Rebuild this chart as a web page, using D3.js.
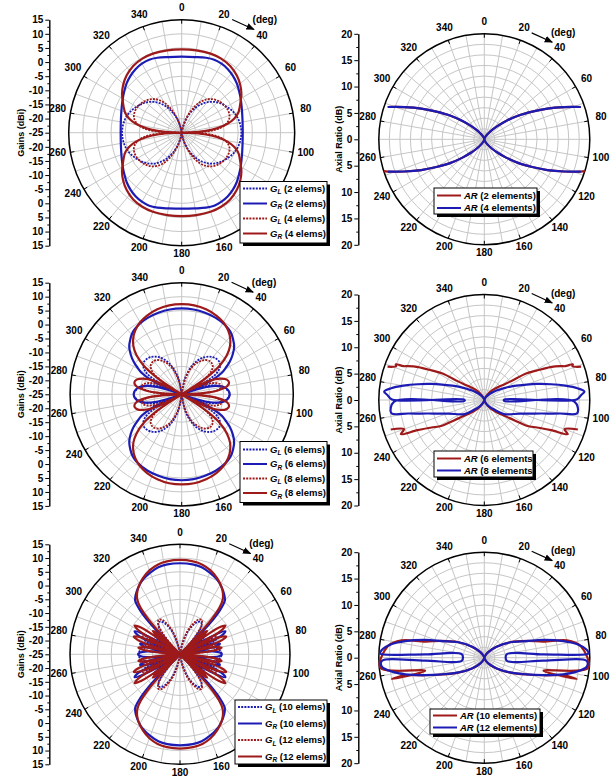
<!DOCTYPE html>
<html>
<head>
<meta charset="utf-8">
<script src="https://cdn.jsdelivr.net/npm/d3@7"></script>
<style>
  body { margin: 0; background: #fff; }
  text { font-family: "Liberation Sans", Arial, sans-serif; font-weight: bold; }
</style>
</head>
<body>
<svg id="chart" width="615" height="777"></svg>
<script>
// ---- data ----
const angleTicks = [0, 20, 40, 60, 80, 100, 120, 140, 160, 180, 200, 220, 240, 260, 280, 300, 320, 340];
const gainTicks = [-25, -20, -15, -10, -5, 0, 5, 10, 15];
const gainMinor = [-22.5, -17.5, -12.5, -7.5, -2.5, 2.5, 7.5, 12.5];
const arTicks = [0, 5, 10, 15, 20];
const arMinor = [2.5, 7.5, 12.5, 17.5];

// gains, [angle (deg), dBi] for 0..90 deg; patterns are symmetric in both axes
const gL2 = [[0,-40],[6,-27],[12,-23],[18,-20],[24,-17.2],[30,-14.5],[36,-12.2],[42,-10.3],[48,-8.8],[54,-7.6],[60,-6.6],[66,-5.6],[72,-4.8],[78,-4.3],[84,-4.0],[90,-3.9]];
const gR2 = [[0,1.9],[10,2.2],[18,2.9],[24,3.3],[30,3.2],[36,2.8],[42,2.1],[48,1.2],[54,0.1],[60,-0.9],[66,-1.8],[72,-2.5],[78,-3.0],[84,-3.3],[90,-3.4]];
const gL4 = [[0,-40],[6,-28],[12,-23],[18,-19.5],[24,-16],[30,-12.8],[36,-10.5],[42,-9],[48,-8],[54,-7.3],[60,-6.9],[66,-6.8],[72,-7.2],[77,-8.3],[81,-10],[85,-13],[88,-18],[90,-40]];
const gR4 = [[0,4.5],[10,4.6],[20,4.8],[28,4.7],[36,4.2],[44,3.1],[51,1.7],[57,0.2],[61,-1.1],[66,-2.5],[71,-3.9],[75,-5.8],[79,-8.5],[83,-12.5],[86,-17],[88,-22],[90,-40]];

const gL6 = [[0,-40],[5,-26],[12,-19],[20,-14],[28,-10.5],[36,-8.3],[43,-7.3],[50,-7.2],[55,-8.3],[59,-10.5],[62,-14],[64,-20],[66,-40],[68,-22],[71,-16],[75,-12.5],[80,-10],[85,-8.5],[90,-7.8]];
const gR6 = [[0,5.8],[8,5.7],[16,5.4],[24,5.0],[32,4.3],[38,3.4],[43,2.0],[48,0.3],[52,-1.8],[56,-4.3],[59,-6.6],[62,-8.8],[65,-13],[67,-19],[69,-40],[71,-22],[74,-15],[78,-11],[82,-9],[86,-8.1],[90,-7.8]];
const gL8 = [[0,-40],[5,-27],[12,-20],[20,-15],[28,-11.8],[35,-10],[41,-9.4],[47,-9.8],[52,-11.5],[56,-15],[59,-21],[61,-40],[64,-22],[68,-15],[72,-12],[76,-10.6],[80,-10.5],[84,-12.5],[87,-17],[89,-24],[90,-40]];
const gR8 = [[0,7.3],[8,7.2],[16,6.7],[24,5.8],[30,4.8],[36,3.3],[41,1.5],[45,-0.5],[49,-3.5],[53,-8],[56,-14],[58,-22],[59,-40],[61,-22],[64,-14],[68,-10],[72,-8],[76,-7.5],[80,-8.5],[84,-12],[87,-18],[89,-26],[90,-40]];

const gL10 = [[0,-40],[6,-28],[12,-22],[18,-17],[24,-13.5],[29,-11.5],[33,-11],[37,-12],[40,-14.5],[43,-19],[45,-40],[47,-22],[50,-15],[53,-13],[56,-15],[58,-22],[59,-40],[61,-20],[64,-12],[67,-10.5],[70,-12.5],[72.5,-20],[73.5,-40],[75,-20],[78,-13],[82,-11],[86,-10.2],[90,-9.8]];
const gR10 = [[0,8.1],[8,8.0],[14,7.6],[20,6.6],[26,5.4],[31,4.0],[35,2.6],[38,1.4],[40,0.3],[42,-3],[44,-9],[45.5,-18],[46.5,-40],[48,-22],[50,-15],[52,-13.5],[54,-15],[56,-22],[57,-40],[58.5,-22],[60.5,-12],[63,-6.5],[65.5,-8],[67.5,-14],[68.5,-22],[69.5,-40],[71,-20],[73,-12],[75,-10],[77,-11],[79.5,-17],[81,-40],[83,-20],[85,-13],[87.5,-10.5],[90,-9.8]];
const gL12 = [[0,-40],[6,-27],[12,-21],[18,-16],[24,-12.5],[28,-10.7],[32,-10.2],[36,-11.5],[39,-14.5],[42,-20],[43.5,-40],[45.5,-22],[48,-15.5],[50.5,-14],[53,-16.5],[55,-24],[56,-40],[58,-20],[61,-12],[64,-10],[67,-11.5],[69.5,-17],[71,-40],[73,-20],[76,-12],[79,-10.5],[82,-11.5],[84.5,-16],[86,-24],[87,-40],[88.5,-28],[90,-25]];
const gR12 = [[0,9.3],[8,9.1],[14,8.6],[20,7.5],[26,5.8],[31,4.0],[35,2.2],[38,0.2],[40,-2.5],[42,-8],[43.5,-18],[44.5,-40],[46,-20],[48,-13],[49.5,-12],[51,-15],[52,-40],[53.5,-18],[55.5,-8],[57.5,-5.5],[59.5,-7],[61.5,-13],[62.5,-22],[63,-40],[64.5,-20],[66.5,-10],[69,-7],[71.5,-9],[73.5,-15],[74.5,-25],[75,-40],[76.5,-20],[78.5,-12],[81,-9.7],[83.5,-12],[85.5,-20],[87,-40],[88.5,-26],[90,-24]];

// axial ratio, [angle (deg), dB] along the trace for the right half (0..180), null = gap
const ar2 = [[0,0],[10,0.1],[20,0.4],[30,1.0],[40,2.4],[45,3.6],[50,5.4],[55,7.8],[60,10.5],[64,13.3],[68,16.3],[71.5,19.3],null,[107.6,20],[108.5,19.3],[112,16.3],[116,13.3],[120,10.5],[125,7.8],[130,5.4],[135,3.6],[140,2.4],[150,1.0],[160,0.4],[170,0.1],[180,0]];
const ar4 = [[0,0],[10,0.1],[20,0.4],[30,1.0],[40,2.4],[45,3.6],[50,5.4],[55,7.8],[60,10.5],[64,13.3],[68,16.3],[71.5,19.3],null,[108.5,19.3],[112,16.3],[116,13.3],[120,10.5],[125,7.8],[130,5.4],[135,3.6],[140,2.4],[150,1.0],[160,0.4],[170,0.1],[180,0]];
const ar6 = [[0,0],[10,0.1],[20,0.4],[30,1.1],[38,2.2],[45,3.2],[50,4.3],[54.5,6],[57.8,9.5],[60.5,11.3],[63.5,14],[66,15.8],[67.3,16.6],[68,18.1],[69,17.9],[71,19.4],null,[107.5,18.6],[110,16.2],[112.3,17.1],[114.3,13.9],[117.5,11.3],[121.2,9.4],[125.5,6],[130,4.3],[135,3.2],[142,2.2],[150,1.1],[160,0.4],[170,0.1],[180,0]];
const ar8 = [[0,0],[15,0.2],[30,0.7],[42,1.6],[50,2.6],[59.3,4.4],[64,6],[69.3,8.1],[73,10.4],[76.7,13],[80,15.6],[82.8,17.8],[85.2,19.05],[87,18.4],[89.7,17.5],[89,3.75],[93,3.77],[91,17.1],[98,17.8],[100.1,14.6],[103.6,10.9],[110.7,7.3],[125.4,4.6],[133,2.8],[145,1.4],[160,0.4],[180,0]];
const ar10 = [[0,0],[20,0.3],[35,1.3],[48.3,3.1],[59.1,5.7],[68.5,8.7],[74.8,11.6],[78.1,16],[83.1,18.4],[95.5,19.8],[102.4,11.5],[103,18],[102.5,15.5],[106.4,11.8],[111.5,8.7],[119.7,5.7],[130.9,3.1],[145,1.3],[160,0.3],[180,0]];
const ar12 = [[0,0],[20,0.3],[35,1.3],[48.3,3.1],[59.1,5.7],[68.5,8.6],[73.3,11.7],[78.1,15.3],[81.6,17.7],[85.7,19.5],[87.6,19.75],[88.1,19.4],[86.8,11.2],[81.5,4.3],[97.7,4.3],[92.9,11.2],[91.7,19.4],[95,19.5],[98.6,17.7],[101.9,15.3],[106.4,11.7],[111.5,8.6],[119.7,5.6],[130.9,3.1],[145,1.3],[160,0.3],[180,0]];

// ---- drawing ----
const blue = "#1c1cb4";
const red = "#9e1a1a";
const rad = Math.PI / 180;
const svg = d3.select("#chart");

svg.append("defs").append("marker")
  .attr("id", "arrow").attr("viewBox", "0 0 10 10").attr("refX", 9).attr("refY", 5)
  .attr("markerWidth", 7).attr("markerHeight", 7).attr("orient", "auto")
  .append("path").attr("d", "M0,1 L10,5 L0,9 Z").attr("fill", "#000");

function mirror4(q) {
  const a = q.map(d => [d[0], d[1]]);
  const b = q.slice(0, -1).reverse().map(d => [180 - d[0], d[1]]);
  const c = q.slice(1).map(d => [180 + d[0], d[1]]);
  const e = q.slice(1, -1).reverse().map(d => [360 - d[0], d[1]]);
  return a.concat(b, c, e);
}
const mirror2 = h => h.map(d => d && [360 - d[0], d[1]]);
const pt = (ang, r) => [r * Math.sin(ang * rad), -r * Math.cos(ang * rad)];

function polarFrame(p, rings) {
  const g = svg.append("g").attr("transform", `translate(${p.cx},${p.cy})`);
  g.append("g").selectAll("line").data(d3.range(0, 360, 10)).join("line")
    .attr("x1", 0).attr("y1", 0)
    .attr("x2", a => pt(a, p.R)[0]).attr("y2", a => pt(a, p.R)[1])
    .attr("stroke", "#c6c6c6").attr("stroke-width", 1);
  g.append("g").selectAll("circle").data(d3.range(1, rings)).join("circle")
    .attr("r", i => p.R * i / rings).attr("fill", "none")
    .attr("stroke", "#c6c6c6").attr("stroke-width", 1);
  g.append("circle").attr("r", p.R).attr("fill", "none").attr("stroke", "#000").attr("stroke-width", 1.5);
  g.append("g").selectAll("line").data(angleTicks).join("line")
    .attr("x1", a => pt(a, p.R)[0]).attr("y1", a => pt(a, p.R)[1])
    .attr("x2", a => pt(a, p.R - 4)[0]).attr("y2", a => pt(a, p.R - 4)[1])
    .attr("stroke", "#000").attr("stroke-width", 1);
  // angle labels; the ones under the legend box are hidden like in the figure
  const lab = a => {
    const q = pt(a, p.R + 10 + 3 * Math.abs(Math.sin(a * rad)));
    return [q[0], q[1] - 2];
  };
  const L = p.L;
  const visible = angleTicks.filter(a => {
    const [x, y] = lab(a);
    const X = p.cx + x, Y = p.cy + y;
    return !(X > L.x - 8 && X < L.x + L.w + 8 && Y > L.y - 5 && Y < L.y + L.h + 5);
  });
  g.append("g").selectAll("text").data(visible).join("text")
    .attr("x", a => lab(a)[0]).attr("y", a => lab(a)[1])
    .attr("dy", "0.35em").attr("text-anchor", "middle").attr("font-size", 10)
    .text(d => d);
  const s = pt(24, p.R + 11), e = pt(35, p.R + 13), t = pt(35, p.R + 25);
  g.append("line").attr("x1", s[0]).attr("y1", s[1]).attr("x2", e[0]).attr("y2", e[1])
    .attr("stroke", "#000").attr("stroke-width", 1.2).attr("marker-end", "url(#arrow)");
  g.append("text").attr("x", t[0] + 4).attr("y", t[1]).attr("dy", "0.35em")
    .attr("text-anchor", "middle").attr("font-size", 10).text("(deg)");
  return g;
}

function radialAxis(p, lo, hi, ticks, minor, title) {
  const top = d3.scaleLinear().domain([lo, hi]).range([p.cy, p.cy - p.R]);
  const bot = d3.scaleLinear().domain([lo, hi]).range([p.cy, p.cy + p.R]);
  const ax = svg.append("g").attr("transform", `translate(${p.axisX},0)`);
  ax.append("g").call(d3.axisLeft(top).tickValues(ticks).tickSize(4).tickSizeOuter(0).tickPadding(2).tickFormat(d => d));
  ax.append("g").call(d3.axisLeft(bot).tickValues(ticks.filter(d => d !== lo)).tickSize(4).tickSizeOuter(0).tickPadding(2).tickFormat(d => d));
  ax.append("g").call(d3.axisLeft(top).tickValues(minor).tickSize(2).tickSizeOuter(0).tickFormat(""));
  ax.append("g").call(d3.axisLeft(bot).tickValues(minor).tickSize(2).tickSizeOuter(0).tickFormat(""));
  ax.selectAll("g").attr("font-family", null).attr("font-size", 10);
  ax.selectAll("path, line").attr("stroke", "#000");
  svg.append("text")
    .attr("transform", `translate(${p.titleX},${p.cy}) rotate(-90)`)
    .attr("text-anchor", "middle").attr("dy", "0.35em").attr("font-size", 9).text(title);
}

function legend(L, items) {
  const g = svg.append("g");
  g.append("rect").attr("x", L.x + 3).attr("y", L.y + 3).attr("width", L.w).attr("height", L.h).attr("fill", "#000");
  g.append("rect").attr("x", L.x).attr("y", L.y).attr("width", L.w).attr("height", L.h)
    .attr("fill", "#fff").attr("stroke", "#000").attr("stroke-width", 1);
  items.forEach((it, i) => {
    const y = L.y + L.top + i * L.step;
    g.append("line").attr("x1", L.x + 3).attr("x2", L.x + 27).attr("y1", y).attr("y2", y)
      .attr("stroke", it.color).attr("stroke-width", 2).attr("stroke-dasharray", it.dotted ? "2,1.2" : null);
    const t = g.append("text").attr("x", L.x + 30).attr("y", y).attr("dy", "0.35em").attr("font-size", 9.5);
    t.append("tspan").attr("font-style", "italic").text(it.main);
    if (it.sub) {
      t.append("tspan").attr("font-style", "italic").attr("font-size", 6.5).attr("dy", 2.5).text(it.sub);
      t.append("tspan").attr("dy", -2.5).text(" " + it.rest);
    } else {
      t.append("tspan").text(" " + it.rest);
    }
  });
}

const gainPanels = [
  { cx: 181.7, cy: 132.7, R: 113, axisX: 49.3, titleX: 20.5,
    series: [["L", "2", gL2, blue], ["R", "2", gR2, blue], ["L", "4", gL4, red], ["R", "4", gR4, red]],
    L: { x: 240, y: 181.5, w: 87, h: 61.5, top: 7, step: 15 } },
  { cx: 181.7, cy: 394.3, R: 111.6, axisX: 49.3, titleX: 20.5,
    series: [["L", "6", gL6, blue], ["R", "6", gR6, blue], ["L", "8", gL8, red], ["R", "8", gR8, red]],
    L: { x: 240, y: 441.5, w: 87, h: 61, top: 8, step: 14.5 } },
  { cx: 180, cy: 654.3, R: 110, axisX: 49.3, titleX: 20.5,
    series: [["L", "10", gL10, blue], ["R", "10", gR10, blue], ["L", "12", gL12, red], ["R", "12", gR12, red]],
    L: { x: 235, y: 700, w: 92, h: 64, top: 7, step: 16.5 } }
];

gainPanels.forEach(p => {
  const g = polarFrame(p, 8);
  const r = d3.scaleLinear().domain([-25, 15]).range([0, p.R]).clamp(true);
  const line = d3.lineRadial().angle(d => d[0] * rad).radius(d => r(d[1]))
    .curve(d3.curveCatmullRomClosed.alpha(0.5));
  p.series.forEach(([pol, n, data, color]) => {
    g.append("path").attr("d", line(mirror4(data))).attr("fill", "none")
      .attr("stroke", color).attr("stroke-width", pol === "L" ? 1.8 : 2.2)
      .attr("stroke-dasharray", pol === "L" ? "2,1.2" : null);
  });
  radialAxis(p, -25, 15, gainTicks, gainMinor, "Gains (dBi)");
  legend(p.L, p.series.map(([pol, n, data, color]) => ({
    main: "G", sub: pol, rest: `(${n} elems)`, color, dotted: pol === "L" })));
});

const arPanels = [
  { cx: 484.3, cy: 139.3, R: 105.5, axisX: 358.3, titleX: 339,
    series: [["2", ar2, red], ["4", ar4, blue]],
    L: { x: 434, y: 188, w: 103, h: 26, top: 7.5, step: 12.5 } },
  { cx: 484.3, cy: 400, R: 105.5, axisX: 358.3, titleX: 339,
    series: [["6", ar6, red], ["8", ar8, blue]],
    L: { x: 434, y: 451, w: 99, h: 26, top: 7.5, step: 12 } },
  { cx: 484.3, cy: 657.7, R: 105.5, axisX: 358.3, titleX: 339,
    series: [["10", ar10, red], ["12", ar12, blue]],
    L: { x: 430, y: 709, w: 110, h: 25, top: 6.5, step: 12 } }
];

arPanels.forEach(p => {
  const g = polarFrame(p, 10);
  const r = d3.scaleLinear().domain([0, 20]).range([0, p.R]).clamp(true);
  const line = d3.lineRadial().defined(d => d != null).angle(d => d[0] * rad).radius(d => r(d[1]))
    .curve(d3.curveCatmullRom.alpha(0.5));
  p.series.forEach(([n, data, color]) => {
    [data, mirror2(data)].forEach(half => {
      g.append("path").attr("d", line(half)).attr("fill", "none")
        .attr("stroke", color).attr("stroke-width", 2.2);
    });
  });
  radialAxis(p, 0, 20, arTicks, arMinor, "Axial Ratio (dB)");
  legend(p.L, p.series.map(([n, data, color]) => ({
    main: "AR", rest: `(${n} elements)`, color, dotted: false })));
});
</script>
</body>
</html>
